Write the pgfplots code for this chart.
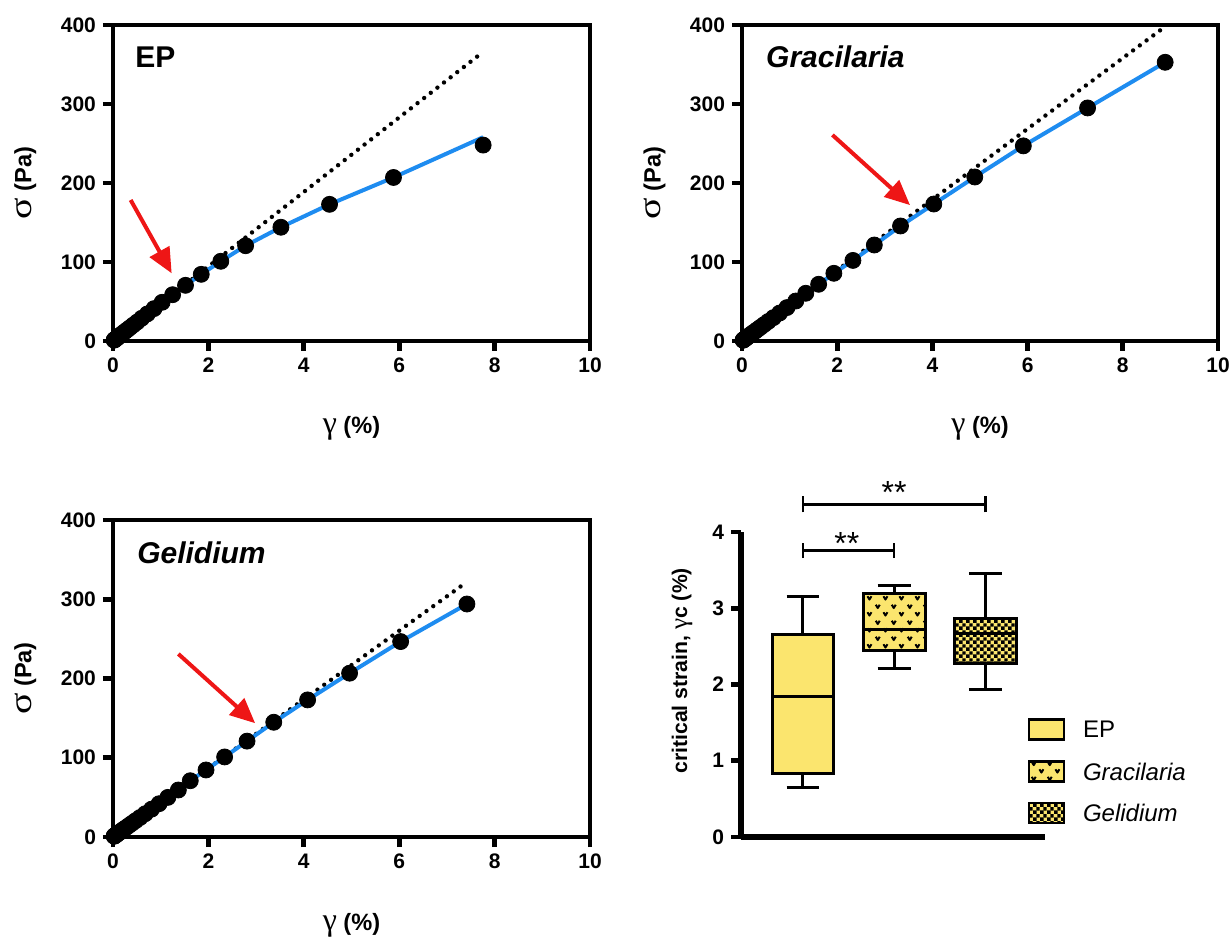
\documentclass[border=0pt]{standalone}
\usepackage{fontspec}
\setmainfont{Liberation Sans}
\newfontfamily\symfont{Liberation Serif}
\usepackage{graphicx}
\usepackage{pgfplots}
\pgfplotsset{compat=1.18}
\usepgfplotslibrary{statistics}
\usetikzlibrary{arrows.meta,patterns.meta}

\definecolor{boxyellow}{RGB}{251,229,110}
\definecolor{fitblue}{RGB}{30,140,240}
\definecolor{arrowred}{RGB}{238,22,22}

\tikzdeclarepattern{
  name=vees,
  type=uncolored,
  bounding box={(0pt,0pt) and (7.8pt,7.7pt)},
  tile size={(7.8pt,7.7pt)},
  code={
    \draw[line width=1pt, line join=round] (0.9pt,6.8pt) -- (1.9pt,5.1pt) -- (2.9pt,6.8pt);
    \draw[line width=1pt, line join=round] (4.8pt,2.95pt) -- (5.8pt,1.25pt) -- (6.8pt,2.95pt);
  }
}
\tikzdeclarepattern{
  name=checks,
  type=uncolored,
  bounding box={(0pt,0pt) and (3.4pt,3.4pt)},
  tile size={(3.4pt,3.4pt)},
  code={
    \fill (0pt,0pt) rectangle (1.8pt,1.8pt);
    \fill (1.7pt,1.7pt) rectangle (3.4pt,3.4pt);
  }
}

\newcommand{\sig}{{\fontsize{16}{16}\selectfont\symfont\mdseries\scalebox{1.25}[1]{σ}}}
\newcommand{\gam}{{\fontsize{16}{16}\selectfont\symfont\mdseries γ}}

\tikzset{redarrow/.style={arrowred, line width=2pt, -{Triangle[length=12.5pt,width=11pt]}}}

\pgfplotsset{
  strainpanel/.style={
    scale only axis, width=238.5pt, height=158pt,
    xmin=0, xmax=10, ymin=0, ymax=400,
    xtick={0,2,4,6,8,10}, ytick={0,100,200,300,400},
    tick align=outside, tick pos=left,
    major tick length=5pt,
    major tick style={black, line width=2.4pt},
    axis line style={line width=2.4pt},
    clip=false,
    tick label style={font=\fontsize{10.5}{12}\selectfont\bfseries},
    /pgf/number format/assume math mode=true,
    xlabel={\gam\ (\%)}, ylabel={\sig\ (Pa)},
    label style={font=\fontsize{11.8}{13}\selectfont\bfseries},
    xlabel style={at={(axis description cs:0.5,-0.275)}, anchor=center},
    ylabel style={at={(axis description cs:-0.184,0.5)}, anchor=center},
  },
  dotfit/.style={black, line width=2.2pt, line cap=round, dash pattern=on 0pt off 4.2pt},
  bluefit/.style={fitblue, line width=2pt},
  pts/.style={only marks, mark=*, mark size=4pt, black},
}

\begin{document}
\begin{tikzpicture}
\path[use as bounding box] (0pt,0pt) rectangle (615.5pt,471.5pt);

% ---------------- EP ----------------
\begin{axis}[strainpanel, at={(56.5pt,301pt)}, anchor=south west]
\addplot[dotfit] coordinates {(0,0) (7.74,365)};
\addplot[bluefit] coordinates {
(0,0)(0.023,1.1)(0.040,1.9)(0.059,2.8)(0.084,4.0)(0.120,5.7)(0.173,8.2)(0.246,11.7)(0.354,16.8)
(0.505,24)(0.72,34.3)(1.03,49)(1.25,58.6)(1.52,70.5)(1.85,84.4)(2.26,100.9)(2.78,120.6)
(3.52,144)(4.54,173)(5.88,207)(7.76,258)};
\addplot[pts] coordinates {
(0.023,1.1)(0.028,1.35)(0.034,1.6)(0.040,1.9)(0.048,2.3)(0.059,2.8)(0.072,3.4)(0.084,4.0)
(0.101,4.8)(0.120,5.7)(0.145,6.9)(0.173,8.2)(0.206,9.8)(0.246,11.7)(0.295,14.0)(0.354,16.8)
(0.423,20.1)(0.505,24)(0.60,28.7)(0.72,34.3)(0.86,41)(1.03,49)(1.25,58.6)(1.52,70.5)
(1.85,84.4)(2.26,100.9)(2.78,120.6)(3.52,144)(4.54,173)(5.88,207)(7.76,248)};
\draw[redarrow] (axis cs:0.37,178.5) -- (axis cs:1.23,85.7);
\node[anchor=base west, inner sep=0pt, font=\fontsize{15}{16}\selectfont\bfseries] at (axis description cs:0.046,0.864) {EP};
\end{axis}

% ---------------- Gracilaria ----------------
\begin{axis}[strainpanel, width=238pt, at={(371pt,301pt)}, anchor=south west]
\addplot[dotfit] coordinates {(0,0) (8.89,398)};
\addplot[bluefit] coordinates {
(0,0)(0.022,1.0)(0.045,2.0)(0.078,3.5)(0.132,5.9)(0.225,10.1)(0.386,17.3)(0.661,29.6)(0.944,42.3)
(1.13,50.6)(1.34,60.4)(1.61,71.8)(1.93,85.7)(2.33,102)(2.78,121.5)(3.33,145.6)(4.03,173.4)
(4.89,207.6)(5.91,247)(7.26,295)(8.89,352.8)};
\addplot[pts] coordinates {
(0.022,1.0)(0.027,1.2)(0.031,1.4)(0.038,1.7)(0.045,2.0)(0.054,2.4)(0.065,2.9)(0.078,3.5)
(0.0915,4.1)(0.109,4.9)(0.132,5.9)(0.158,7.1)(0.190,8.5)(0.225,10.1)(0.270,12.1)(0.324,14.5)
(0.386,17.3)(0.462,20.7)(0.551,24.7)(0.661,29.6)(0.790,35.4)(0.944,42.3)
(1.13,50.6)(1.34,60.4)(1.61,71.8)(1.93,85.7)(2.33,102)(2.78,121.5)(3.33,145.6)(4.03,173.4)
(4.89,207.6)(5.91,247)(7.26,295)(8.89,352.8)};
\draw[redarrow] (axis cs:1.90,260.8) -- (axis cs:3.53,172);
\node[anchor=base west, inner sep=0pt, font=\fontsize{15}{16}\selectfont\bfseries\itshape] at (axis description cs:0.050,0.864) {Gracilaria};
\end{axis}

% ---------------- Gelidium ----------------
\begin{axis}[strainpanel, height=158.5pt, at={(56.5pt,53pt)}, anchor=south west,
  xlabel style={at={(axis description cs:0.5,-0.278)}}]
\addplot[dotfit] coordinates {(0,0) (7.33,318)};
\addplot[bluefit] coordinates {
(0,0)(0.023,1.0)(0.046,2.0)(0.078,3.4)(0.136,5.9)(0.230,10.0)(0.395,17.2)(0.676,29.4)(0.966,42)
(1.15,50)(1.37,59.3)(1.62,71)(1.95,84.6)(2.34,101)(2.81,121)(3.37,144.8)(4.08,173)
(4.96,206.7)(6.03,246.6)(7.42,294)};
\addplot[pts] coordinates {
(0.023,1.0)(0.028,1.2)(0.032,1.4)(0.039,1.7)(0.046,2.0)(0.055,2.4)(0.067,2.9)(0.078,3.4)
(0.094,4.1)(0.113,4.9)(0.136,5.9)(0.161,7.0)(0.193,8.4)(0.230,10.0)(0.276,12.0)(0.331,14.4)
(0.395,17.2)(0.474,20.6)(0.566,24.6)(0.676,29.4)(0.807,35.1)(0.966,42)
(1.15,50)(1.37,59.3)(1.62,71)(1.95,84.6)(2.34,101)(2.81,121)(3.37,144.8)(4.08,173)
(4.96,206.7)(6.03,246.6)(7.42,294)};
\draw[redarrow] (axis cs:1.37,231) -- (axis cs:2.98,143.6);
\node[anchor=base west, inner sep=0pt, font=\fontsize{15}{16}\selectfont\bfseries\itshape] at (axis description cs:0.050,0.864) {Gelidium};
\end{axis}

% ---------------- Box plot ----------------
\begin{axis}[at={(370.5pt,53pt)}, anchor=south west, scale only axis,
  width=152pt, height=152.5pt,
  xmin=0.32, xmax=3.655, ymin=0, ymax=4,
  axis lines*=left, xtick=\empty, ytick={0,1,2,3,4},
  tick align=outside, major tick length=5pt,
  major tick style={black, line width=2.4pt},
  axis line style={line width=2.6pt},
  clip=false,
  boxplot/draw direction=y,
  tick label style={font=\fontsize{10.5}{12}\selectfont\bfseries},
  /pgf/number format/assume math mode=true,
  ylabel={critical strain, {\fontsize{12.5}{12}\selectfont\symfont\mdseries γ}c (\%)},
  ylabel style={font=\fontsize{10.6}{12}\selectfont\bfseries, at={(axis description cs:-0.194,0.545)}, anchor=center},
]
\addplot[draw=black, line width=1.5pt,
  boxplot prepared={draw position=1, lower whisker=0.65, lower quartile=0.835, median=1.84,
    upper quartile=2.65, upper whisker=3.16, box extend=0.68, whisker extend=0.36},
  boxplot/every box/.style={fill=boxyellow}] coordinates {};
\addplot[draw=black, line width=1.5pt,
  boxplot prepared={draw position=2, lower whisker=2.21, lower quartile=2.44, median=2.72,
    upper quartile=3.19, upper whisker=3.30, box extend=0.68, whisker extend=0.36},
  boxplot/every box/.style={preaction={fill=boxyellow}, pattern=vees, pattern color=black}] coordinates {};
\addplot[draw=black, line width=1.5pt,
  boxplot prepared={draw position=3, lower whisker=1.94, lower quartile=2.28, median=2.67,
    upper quartile=2.86, upper whisker=3.46, box extend=0.68, whisker extend=0.36},
  boxplot/every box/.style={preaction={fill=boxyellow}, pattern=checks, pattern color=black}] coordinates {};
% significance brackets
\draw[line width=1.2pt] (axis cs:1.0,3.755) -- (axis cs:2.0,3.755);
\draw[line width=1.2pt] (axis cs:1.0,3.657) -- (axis cs:1.0,3.853);
\draw[line width=1.2pt] (axis cs:2.0,3.657) -- (axis cs:2.0,3.853);
\draw[line width=1.2pt] (axis cs:1.0,4.363) -- (axis cs:3.0,4.363);
\draw[line width=1.2pt] (axis cs:1.0,4.258) -- (axis cs:1.0,4.468);
\draw[line width=1.2pt] (axis cs:3.0,4.258) -- (axis cs:3.0,4.468);
\node[anchor=base, font=\fontsize{16}{16}\selectfont, inner sep=0pt] at (axis cs:1.482,3.711) {**};
\node[anchor=base, font=\fontsize{16}{16}\selectfont, inner sep=0pt] at (axis cs:2.0,4.368) {**};
\end{axis}

% legend
\draw[line width=1.4pt, fill=boxyellow] (514.5pt,101.85pt) rectangle (532pt,111.85pt);
\draw[line width=1.4pt, preaction={fill=boxyellow}, pattern=vees, pattern color=black] (514.5pt,80.65pt) rectangle (532pt,90.65pt);
\draw[line width=1.4pt, preaction={fill=boxyellow}, pattern=checks, pattern color=black] (514.5pt,60pt) rectangle (532pt,70pt);
\node[anchor=west, inner sep=0pt, font=\fontsize{12}{13}\selectfont] at (541.3pt,106.8pt) {EP};
\node[anchor=west, inner sep=0pt, font=\fontsize{12}{13}\selectfont\itshape] at (541.3pt,85.6pt) {Gracilaria};
\node[anchor=west, inner sep=0pt, font=\fontsize{12}{13}\selectfont\itshape] at (541.3pt,65pt) {Gelidium};
\end{tikzpicture}
\end{document}
